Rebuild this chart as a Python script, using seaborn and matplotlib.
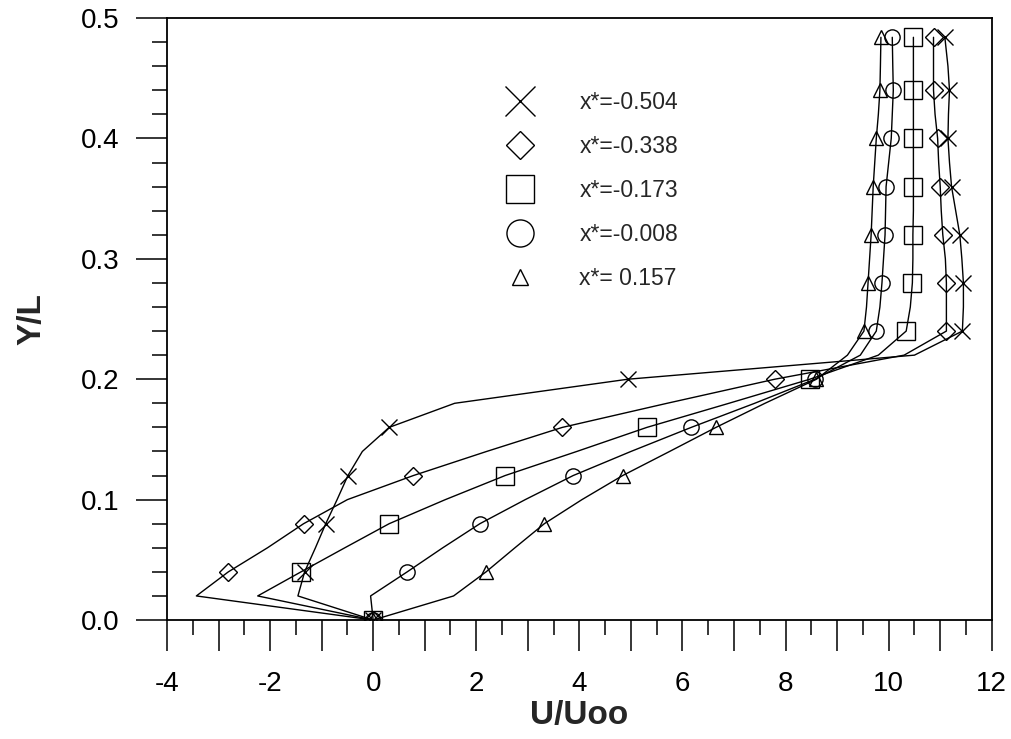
import numpy as np
import pandas as pd
import matplotlib
matplotlib.use("Agg")
import matplotlib.pyplot as plt
import matplotlib.ticker as plticker
from matplotlib.lines import Line2D
import seaborn as sns

# profile heights (Y/L); markers sit on every other level
y_levels = [0.0, 0.02, 0.04, 0.06, 0.08, 0.10, 0.12, 0.14, 0.16, 0.18, 0.20, 0.22, 0.24,
            0.26, 0.28, 0.30, 0.32, 0.34, 0.36, 0.38, 0.40, 0.42, 0.44, 0.46, 0.484]

# U/Uoo, one list per station
u_m0504 = [0.0, -1.46, -1.33, -1.12, -0.92, -0.70, -0.49, -0.21, 0.31, 1.58, 4.94, 10.5, 11.43,
           11.45, 11.45, 11.42, 11.38, 11.30, 11.22, 11.18, 11.15, 11.16, 11.18, 11.15, 11.09]
u_m0338 = [0.0, -3.43, -2.81, -2.05, -1.35, -0.50, 0.78, 2.20, 3.67, 5.70, 7.79, 10.3, 11.12,
           11.12, 11.12, 11.10, 11.05, 11.02, 11.00, 10.97, 10.95, 10.90, 10.87, 10.87, 10.87]
u_m0173 = [0.0, -2.24, -1.40, -0.55, 0.31, 1.40, 2.56, 3.95, 5.31, 6.90, 8.47, 9.80, 10.34,
           10.42, 10.46, 10.47, 10.47, 10.48, 10.48, 10.48, 10.48, 10.48, 10.48, 10.48, 10.48]
u_m0008 = [0.0, -0.05, 0.66, 1.35, 2.07, 2.95, 3.88, 5.00, 6.17, 7.40, 8.57, 9.45, 9.76,
           9.83, 9.87, 9.90, 9.93, 9.94, 9.95, 10.00, 10.05, 10.07, 10.09, 10.08, 10.07]
u_p0157 = [0.0, 1.56, 2.19, 2.75, 3.32, 4.05, 4.84, 5.75, 6.65, 7.60, 8.60, 9.20, 9.52,
           9.57, 9.60, 9.63, 9.66, 9.68, 9.70, 9.73, 9.76, 9.80, 9.83, 9.84, 9.85]

labels = ['x*=-0.504', 'x*=-0.338', 'x*=-0.173', 'x*=-0.008', 'x*= 0.157']
markers = ['x', 'D', 's', 'o', '^']
profiles = [u_m0504, u_m0338, u_m0173, u_m0008, u_p0157]

df = pd.concat([pd.DataFrame({'U': u, 'Y': y_levels, 'station': lab})
                for lab, u in zip(labels, profiles)], ignore_index=True)

sns.set_style('ticks')
plt.rcParams['font.family'] = ['Liberation Sans', 'DejaVu Sans']

fig, ax = plt.subplots(figsize=(10.12, 7.39), dpi=100)
fig.subplots_adjust(left=0.165, right=0.980, top=0.9756, bottom=0.161)

# seaborn won't mix 'x' with filled markers in one style map, so one call per station
marker_sizes = {'x': 12, 'D': 9, 's': 13, 'o': 11, '^': 10}
for lab, m in zip(labels, markers):
    sns.lineplot(data=df[df['station'] == lab], x='U', y='Y', color='black',
                 estimator=None, sort=False, legend=False, ax=ax,
                 lw=1.0, marker=m, ms=marker_sizes[m], mfc='none', mec='black',
                 mew=1.0, markevery=2)

ax.set_xlim(-4, 12)
ax.set_ylim(0, 0.5)

ax.xaxis.set_major_locator(plticker.MultipleLocator(1))
ax.xaxis.set_minor_locator(plticker.MultipleLocator(0.5))
ax.xaxis.set_major_formatter(plticker.FuncFormatter(
    lambda v, pos: f"{v:.0f}" if round(v) % 2 == 0 else ""))
ax.yaxis.set_major_locator(plticker.MultipleLocator(0.1))
ax.yaxis.set_minor_locator(plticker.MultipleLocator(0.02))
ax.yaxis.set_major_formatter(plticker.FormatStrFormatter('%.1f'))

ax.tick_params(which='major', direction='out', length=22, width=1.1, labelsize=20,
               color='black', labelcolor='black')
ax.tick_params(which='minor', direction='out', length=11, width=1.1, color='black')
ax.tick_params(axis='x', which='major', pad=15)
ax.tick_params(axis='y', which='major', pad=12)

for sp in ax.spines.values():
    sp.set_visible(True)
    sp.set_color('black')
    sp.set_linewidth(1.3)

ax.set_xlabel('U/Uoo', fontsize=24, fontweight='bold', labelpad=2)
ax.set_ylabel('Y/L', fontsize=24, fontweight='bold', labelpad=24)

legend_sizes = {'x': 21, 'D': 14, 's': 20, 'o': 19.5, '^': 12}
handles = [Line2D([], [], ls='none', marker=m, ms=legend_sizes[m],
                  mfc='none', mec='black', mew=1.0) for m in markers]
ax.legend(handles, labels, frameon=False, loc='upper left',
          bbox_to_anchor=(0.407, 0.879), fontsize=16.5, handlelength=1.5,
          handletextpad=1.85, labelspacing=0.92, borderpad=0, borderaxespad=0)

fig.savefig('out.png', dpi=100, facecolor='white')
